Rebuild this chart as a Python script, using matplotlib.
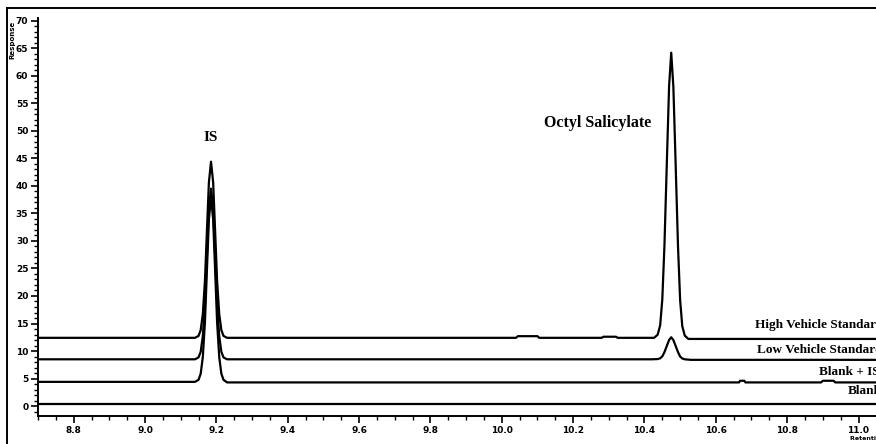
import matplotlib.pyplot as plt
from matplotlib.lines import Line2D
from matplotlib.ticker import MultipleLocator

# retention time (min) / response points
high_x = [8.70, 9.140, 9.150, 9.156, 9.162, 9.168, 9.1735, 9.179, 9.185, 9.191, 9.1965, 9.202, 9.208,
          9.214, 9.220, 9.230, 10.04, 10.045, 10.10, 10.105, 10.28, 10.285, 10.32, 10.325, 10.427,
          10.437, 10.444, 10.450, 10.456, 10.4625, 10.469, 10.475, 10.481, 10.4875, 10.494, 10.500,
          10.506, 10.513, 10.523, 11.05]
high_y = [12.4, 12.4, 12.75, 13.8, 16.7, 22.8, 31.8, 40.6, 44.4, 40.6, 31.8, 22.8, 16.7,
          13.8, 12.75, 12.4, 12.4, 12.7, 12.7, 12.4, 12.4, 12.6, 12.6, 12.4, 12.4,
          12.97, 14.68, 19.4, 29.2, 43.8, 58.1, 64.2, 58.0, 43.7, 29.0, 19.2,
          14.5, 12.8, 12.2, 12.2]

low_x = [8.70, 9.140, 9.150, 9.156, 9.162, 9.168, 9.1735, 9.179, 9.185, 9.191, 9.1965, 9.202, 9.208,
         9.214, 9.220, 9.230, 10.420, 10.437, 10.444, 10.450, 10.456, 10.4625, 10.469, 10.475, 10.481,
         10.4875, 10.494, 10.500, 10.506, 10.513, 10.530, 11.05]
low_y = [8.5, 8.5, 8.84, 9.86, 12.7, 18.6, 27.3, 35.8, 39.5, 35.8, 27.3, 18.6, 12.7,
         9.86, 8.84, 8.5, 8.5, 8.54, 8.68, 9.04, 9.8, 10.9, 12.0, 12.5, 12.0,
         10.9, 9.8, 9.0, 8.65, 8.5, 8.4, 8.4]

blank_is_x = [8.70, 9.140, 9.150, 9.156, 9.162, 9.168, 9.1735, 9.179, 9.185, 9.191, 9.1965, 9.202,
              9.208, 9.214, 9.220, 9.230, 10.665, 10.668, 10.680, 10.683, 10.895, 10.900, 10.930,
              10.935, 11.05]
blank_is_y = [4.4, 4.4, 4.77, 5.87, 8.9, 15.3, 24.7, 33.9, 37.9, 33.9, 24.7, 15.3,
              8.9, 5.87, 4.77, 4.3, 4.3, 4.6, 4.6, 4.3, 4.3, 4.6, 4.6,
              4.3, 4.3]

blank_x = [8.70, 11.05]
blank_y = [0.4, 0.4]

trace_names = ["High Vehicle Standard", "Low Vehicle Standard", "Blank + IS", "Blank"]
trace_label_x = [10.71, 10.715, 10.89, 10.97]
trace_label_y = [14.7, 10.2, 6.2, 2.7]

fig = plt.figure(figsize=(8.76, 4.44), dpi=100)
ax = fig.add_axes([38 / 876, 28 / 444, 1 - 38 / 876, 398 / 444])

for xs, ys in [(high_x, high_y), (low_x, low_y), (blank_is_x, blank_is_y), (blank_x, blank_y)]:
    ax.plot(xs, ys, color="black", lw=1.6, solid_joinstyle="round")

ax.set_xlim(8.70, 11.049)
ax.set_ylim(-1.8, 70.5)

for s in ["top", "right"]:
    ax.spines[s].set_visible(False)
for s in ["left", "bottom"]:
    ax.spines[s].set_linewidth(1.4)

ax.xaxis.set_major_locator(MultipleLocator(0.2))
ax.xaxis.set_minor_locator(MultipleLocator(0.05))
ax.yaxis.set_major_locator(MultipleLocator(5))
ax.yaxis.set_minor_locator(MultipleLocator(1))
ax.tick_params(which="major", length=5, width=1.2, labelsize=6.5, pad=2)
ax.tick_params(which="minor", length=3, width=1.0)
for lab in ax.get_xticklabels() + ax.get_yticklabels():
    lab.set_fontweight("bold")
ax.xaxis.set_major_formatter(plt.FuncFormatter(lambda v, p: f"{v:.1f}"))

ax.text(9.185, 48.8, "IS", ha="center", va="center", fontsize=11,
        fontweight="bold", family="Liberation Serif")
ax.text(10.27, 51.4, "Octyl Salicylate", ha="center", va="center", fontsize=11.5,
        fontweight="bold", family="Liberation Serif")
for name, tx, ty in zip(trace_names, trace_label_x, trace_label_y):
    ax.text(tx, ty, name, ha="left", va="center", fontsize=9.5,
            fontweight="bold", family="Liberation Serif", clip_on=False)

fig.text(12 / 876, 1 - 40 / 444, "Response", rotation=90, ha="center", va="center",
         fontsize=5, fontweight="bold")
fig.text(850 / 876, 1 - 438 / 444, "Retention time", ha="left", va="center",
         fontsize=4.5, fontweight="bold")

# outer frame lines
fig.add_artist(Line2D([7 / 876, 7 / 876], [0, 1 - 8 / 444], transform=fig.transFigure,
                      color="black", lw=1.4))
fig.add_artist(Line2D([7 / 876, 1], [1 - 8 / 444, 1 - 8 / 444], transform=fig.transFigure,
                      color="black", lw=1.4))

fig.savefig("out.png", dpi=100)
